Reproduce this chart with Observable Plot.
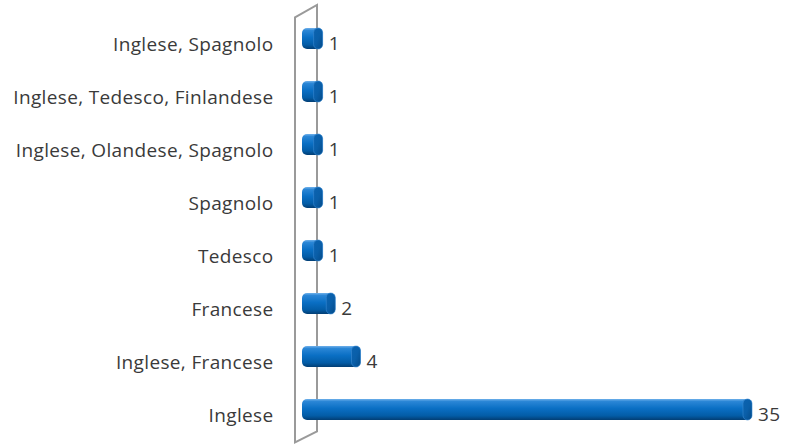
<!DOCTYPE html>
<html>
<head>
<meta charset="utf-8">
<script src="https://cdn.jsdelivr.net/npm/d3@7"></script>
<script src="https://cdn.jsdelivr.net/npm/@observablehq/plot@0.6"></script>
<style>
  html, body { margin: 0; padding: 0; background: #fff; }
  #chart svg { display: block; }
  #chart svg text { letter-spacing: 0.35px; }
</style>
</head>
<body>
<div id="chart"></div>
<script>
const categories = [
  "Inglese, Spagnolo",
  "Inglese, Tedesco, Finlandese",
  "Inglese, Olandese, Spagnolo",
  "Spagnolo",
  "Tedesco",
  "Francese",
  "Inglese, Francese",
  "Inglese"
];
const values = [1, 1, 1, 1, 1, 2, 4, 35];

const data = categories.map((c, i) => ({c, v: values[i]}));
const FONT = "'Open Sans', 'Noto Sans', sans-serif";

const plot = Plot.plot({
  width: 798,
  height: 448,
  marginLeft: 310,
  marginRight: 46,
  marginTop: 11.4,
  marginBottom: 11.6,
  style: {fontFamily: FONT, fontSize: "19px", color: "#3a3a3a", background: "#fff"},
  x: {domain: [0, 35], axis: null},
  y: {domain: categories, paddingInner: 0.6, paddingOuter: 0.3, axis: null},
  marks: [
    Plot.axisY({tickSize: 0, tickPadding: 37, dy: 6, fill: "#3a3a3a", fontSize: 19, label: null}),
    Plot.barX(data, {x1: 0, x2: "v", y: "c", fill: "url(#cylBody)", insetLeft: -8, rx: 5}),
    Plot.rect(data, {x1: "v", x2: "v", y: "c", fill: "url(#cylCap)", insetLeft: -9, insetRight: 0, rx: 4.5, stroke: "#3b8ad2", strokeWidth: 0.6}),
    Plot.text(data, {x: "v", y: "c", text: d => String(d.v), dx: 5.5, dy: 5, textAnchor: "start", fill: "#3a3a3a", fontSize: 19})
  ]
});

const svg = d3.select(plot);
const defs = svg.insert("defs", ":first-child");
const g1 = defs.append("linearGradient").attr("id", "cylBody").attr("x1", 0).attr("y1", 0).attr("x2", 0).attr("y2", 1);
[[0, "#6fb0ea"], [0.12, "#2a86d6"], [0.45, "#0a6fc4"], [0.8, "#035ca6"], [1, "#023e74"]].forEach(([o, c]) =>
  g1.append("stop").attr("offset", o).attr("stop-color", c));
const g2 = defs.append("linearGradient").attr("id", "cylCap").attr("x1", 0).attr("y1", 0).attr("x2", 1).attr("y2", 1);
[[0, "#0b63b0"], [0.5, "#0a5fa9"], [1, "#034a88"]].forEach(([o, c]) =>
  g2.append("stop").attr("offset", o).attr("stop-color", c));

// 3D wall behind the bars, placed from the chart's scales
const xs = plot.scale("x"), ys = plot.scale("y");
const x0 = xs.apply(0);
const yTop = ys.range[0], yBot = ys.range[1];
const wall = [
  [x0 - 15, yTop + 6],
  [x0 + 7, yTop - 6.5],
  [x0 + 7, yBot - 5],
  [x0 - 15, yBot + 6],
];
svg.insert("path", "g[aria-label='bar']")
  .attr("d", "M" + wall.map(p => p.join(",")).join("L") + "Z")
  .attr("fill", "none")
  .attr("stroke", "#9a9a9a")
  .attr("stroke-width", 2)
  .attr("stroke-linejoin", "miter");

document.getElementById("chart").appendChild(plot);
</script>
</body>
</html>
